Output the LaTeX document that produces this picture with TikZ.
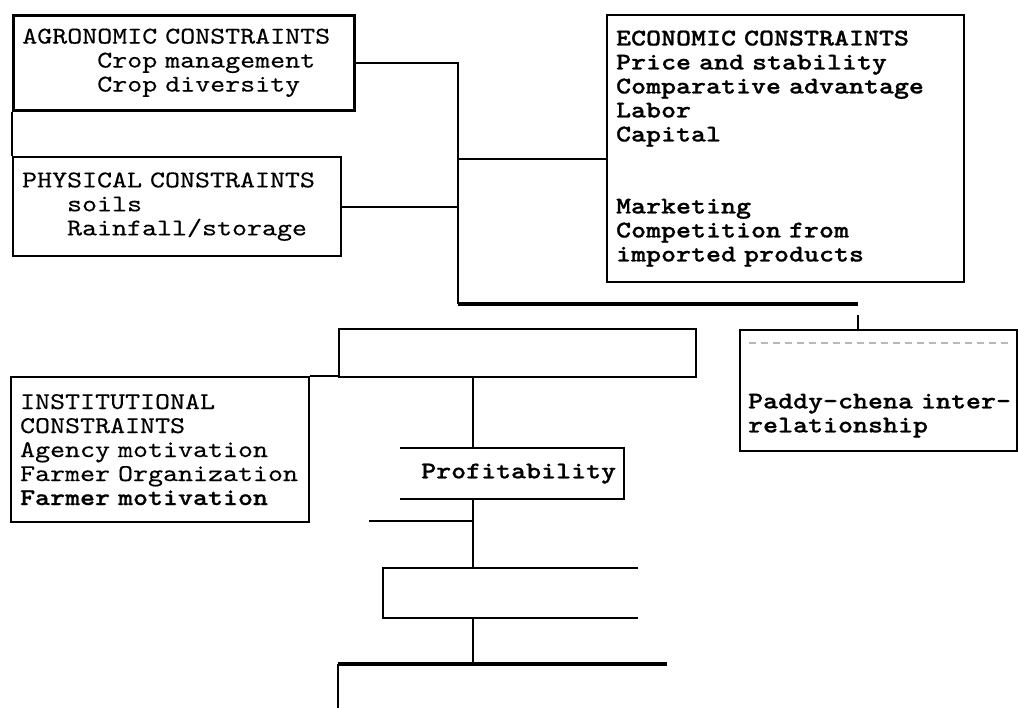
\documentclass[tikz,border=0pt]{standalone}
\usepackage{fontspec}
\setmonofont{lmmono10-regular.otf}[BoldFont=lmmonolt10-bold.otf, FakeStretch=1.19, WordSpace=1.19, UprightFeatures={FakeBold=0.3}, BoldFeatures={FakeBold=0.8}]
\usetikzlibrary{
    positioning,
    calc
}

\begin{document}
\begin{tikzpicture}[x=1pt, y=-1pt,
        block/.style={draw, line width=2.2pt, anchor=north west, inner sep=0pt, inner xsep=9pt, align=left, font=\ttfamily\fontsize{24}{24}\selectfont},
        bold/.style={font=\ttfamily\bfseries\fontsize{24}{24}\selectfont},
        open/.style={block, draw=none},
        link/.style={line width=2pt},
        heavy/.style={line width=4pt},
        faded/.style={gray!55, line width=1.5pt, dash pattern=on 7pt off 5pt}
    ]
        \useasboundingbox (0,0) rectangle (1018,708);

        % Constraint boxes
        \node[block, line width=2.6pt, minimum width=341pt, minimum height=95pt, text width=323pt] (agro) at (12,14) {AGRONOMIC CONSTRAINTS\\\hphantom{MMMMM}Crop management\\\hphantom{MMMMM}Crop diversity};
        \node[block, minimum width=328pt, minimum height=99pt, text width=310pt] (phys) at (12,156) {PHYSICAL CONSTRAINTS\\\hphantom{MMM}soils\\\hphantom{MMM}Rainfall/storage};
        \node[block, bold, minimum width=357pt, minimum height=267pt, text width=339pt] (econ) at (606,14) {ECONOMIC CONSTRAINTS\\Price and stability\\Comparative advantage\\Labor\\Capital\\\mbox{}\\\mbox{}\\Marketing\\Competition from\\imported products};
        \node[block, bold, inner xsep=8pt, minimum width=277pt, minimum height=121pt, text width=261pt] (paddy) at (739,329) {\strut\\\mbox{}\\\mbox{Paddy-chena inter-}\\relationship};
        \node[block, minimum width=298pt, minimum height=145pt, text width=280pt] (inst) at (10,376) {INSTITUTIONAL\\CONSTRAINTS\\Agency motivation\\Farmer Organization\\\textbf{Farmer motivation}};

        % Empty boxes and Profitability
        \node[block, minimum width=357pt, minimum height=48pt] (gap1) at (338,328) {};
        \node[open, bold, inner xsep=7pt, minimum width=222pt, minimum height=49pt, text width=208pt, align=right] (profit) at (400,448) {Profitability};
        \node[open, minimum width=253pt, minimum height=48pt] (gap2) at (383,568) {};

        % Junction points
        \coordinate (spine) at (458,304);
        \coordinate (econin) at (606,159);
        \coordinate (tick) at (858,315);
        \coordinate (trunk) at (473,376);
        \coordinate (stub) at (369,521);
        \coordinate (base) at (338,664);
        \coordinate (baseend) at (667,664);
        \coordinate (foot) at (338,708);

        % Upper connectors
        \draw[link] (agro.south west) -- (phys.north west);
        \draw[link] (agro.east) -- (agro.east -| spine) -- (spine);
        \draw[link] (phys.east) -- (phys.east -| spine);
        \draw[link] (econin -| spine) -- (econin);
        \draw[heavy] (spine) -- (spine -| tick);
        \draw[link] (tick) -- (tick |- paddy.north);
        \draw[faded] ($(paddy.north west)+(10,14)$) -- ($(paddy.north east)+(-6,14)$);

        % Lower connectors
        \draw[link] (inst.north east) -- (inst.north east -| gap1.west);
        \draw[link] (trunk) -- (trunk |- profit.north);
        \draw[link] (profit.north west) -- (profit.north east) -- (profit.south east) -- (profit.south west);
        \draw[link] (trunk |- profit.south) -- (trunk |- gap2.north);
        \draw[link] (stub) -- (stub -| trunk);
        \draw[link] (gap2.north east) -- (gap2.north west) -- (gap2.south west) -- (gap2.south east);
        \draw[link] (trunk |- gap2.south) -- (trunk |- base);
        \draw[heavy] (base) -- (baseend);
        \draw[link] (base) -- (foot);
    \end{tikzpicture}
\end{document}
